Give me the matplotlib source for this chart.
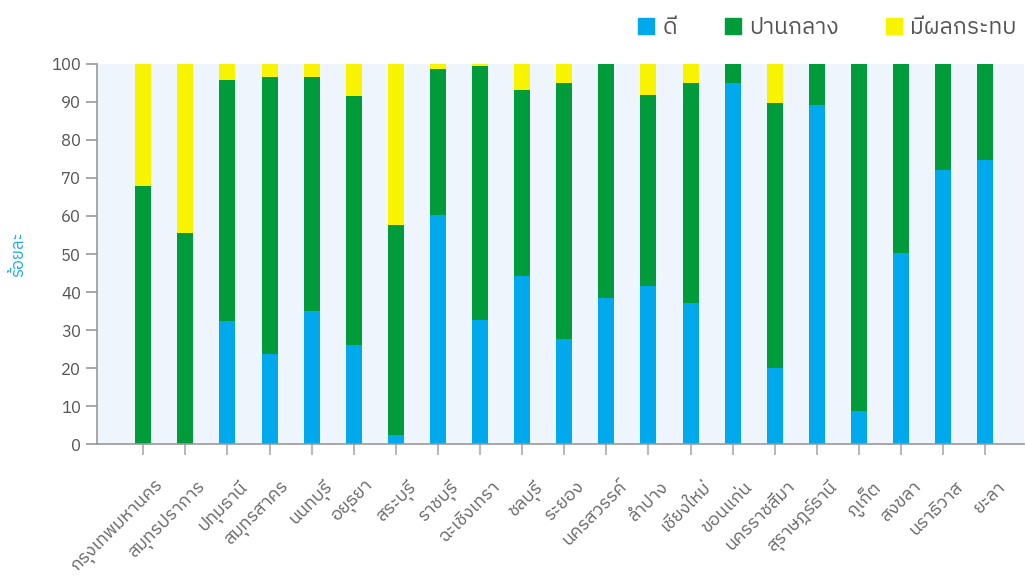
import matplotlib
matplotlib.use("Agg")
from matplotlib import pyplot as plt
from matplotlib import font_manager as fm
from matplotlib.ft2font import FT2Font
from matplotlib.lines import Line2D
from matplotlib.transforms import ScaledTranslation
import numpy as np

provinces = ["กรุงเทพมหานคร", "สมุทรปราการ", "ปทุมธานี", "สมุทรสาคร", "นนทบุรี",
             "อยุธยา", "สระบุรี", "ราชบุรี", "ฉะเชิงเทรา", "ชลบุรี", "ระยอง",
             "นครสวรรค์", "ลำปาง", "เชียงใหม่", "ขอนแก่น", "นครราชสีมา",
             "สุราษฎร์ธานี", "ภูเก็ต", "สงขลา", "นราธิวาส", "ยะลา"]
# percent "good"
good = [0.0, 0.0, 32.4, 23.7, 35.0, 26.1, 2.4, 60.3, 32.7, 44.3, 27.7,
        38.5, 41.6, 37.2, 95.0, 20.1, 89.2, 8.8, 50.3, 72.2, 74.8]
# percent "moderate"
moderate = [67.9, 55.6, 63.4, 72.9, 61.6, 65.5, 55.3, 38.4, 66.8, 48.9, 67.3,
            61.5, 50.3, 57.8, 5.0, 69.6, 10.8, 91.2, 49.7, 27.8, 25.2]
# percent "affected"
affected = [32.1, 44.4, 4.2, 3.4, 3.4, 8.4, 42.3, 1.3, 0.5, 6.8, 5.0,
            0.0, 8.1, 5.0, 0.0, 10.3, 0.0, 0.0, 0.0, 0.0, 0.0]
series_names = ["ดี", "ปานกลาง", "มีผลกระทบ"]
colors = ["#00A9EB", "#009C3B", "#F8F400"]


def find_thai_fonts():
    """Return installed family names that contain Thai glyphs."""
    names = []
    for f in fm.fontManager.ttflist:
        try:
            if 0x0E01 in FT2Font(f.fname).get_charmap():
                if f.name not in names:
                    names.append(f.name)
        except Exception:
            pass
    names.sort(key=lambda n: (0 if "Thai" in n else 1, "Looped" in n, n))
    return names


thai = find_thai_fonts()
plt.rcParams['font.family'] = thai + ['DejaVu Sans']

fig = plt.figure(figsize=(10.26, 5.76), dpi=100)
ax = fig.add_axes([0.0945, 0.229, 0.904, 0.660])
ax.set_facecolor("#EEF5FC")

x = np.arange(len(provinces))
w = 0.38
ax.bar(x, good, w, color=colors[0], zorder=2)
ax.bar(x, moderate, w, bottom=good, color=colors[1], zorder=2)
ax.bar(x, affected, w, bottom=np.array(good) + np.array(moderate),
       color=colors[2], zorder=2)

ax.set_xlim(-1.1, len(provinces) - 0.07)
ax.set_ylim(0, 100)
ax.set_yticks(range(0, 101, 10))
ax.set_xticks(x)
ax.tick_params(axis="y", labelsize=12, labelcolor="#555555", color="#999999",
               length=8, width=1.2)
ax.tick_params(axis="x", color="#aaaaaa", length=8, width=1.2, pad=5)
ax.set_xticklabels(provinces, rotation=45, ha="right", rotation_mode="anchor",
                   fontsize=13, color="#666666")
# shift labels a bit right/down like the original (after tick_params!)
shift = ScaledTranslation(0.11, -0.15, fig.dpi_scale_trans)
for lbl in ax.get_xticklabels():
    lbl.set_transform(lbl.get_transform() + shift)
for s in ["top", "right"]:
    ax.spines[s].set_visible(False)
for s in ["left", "bottom"]:
    ax.spines[s].set_color("#999999")
    ax.spines[s].set_linewidth(1.2)

ax.set_ylabel("ร้อยละ", color="#1AACE8", fontsize=12, labelpad=18)

handles = [Line2D([], [], marker="s", linestyle="none", markersize=11.5,
                  markerfacecolor=c, markeredgecolor=c) for c in colors]
fig.legend(handles, series_names, loc="upper right", ncol=3,
           bbox_to_anchor=(1.011, 1.006), frameon=False, fontsize=16.5,
           labelcolor="#555555", handletextpad=0.22, columnspacing=1.9,
           handlelength=1.0)

plt.savefig("out.png", dpi=100)
